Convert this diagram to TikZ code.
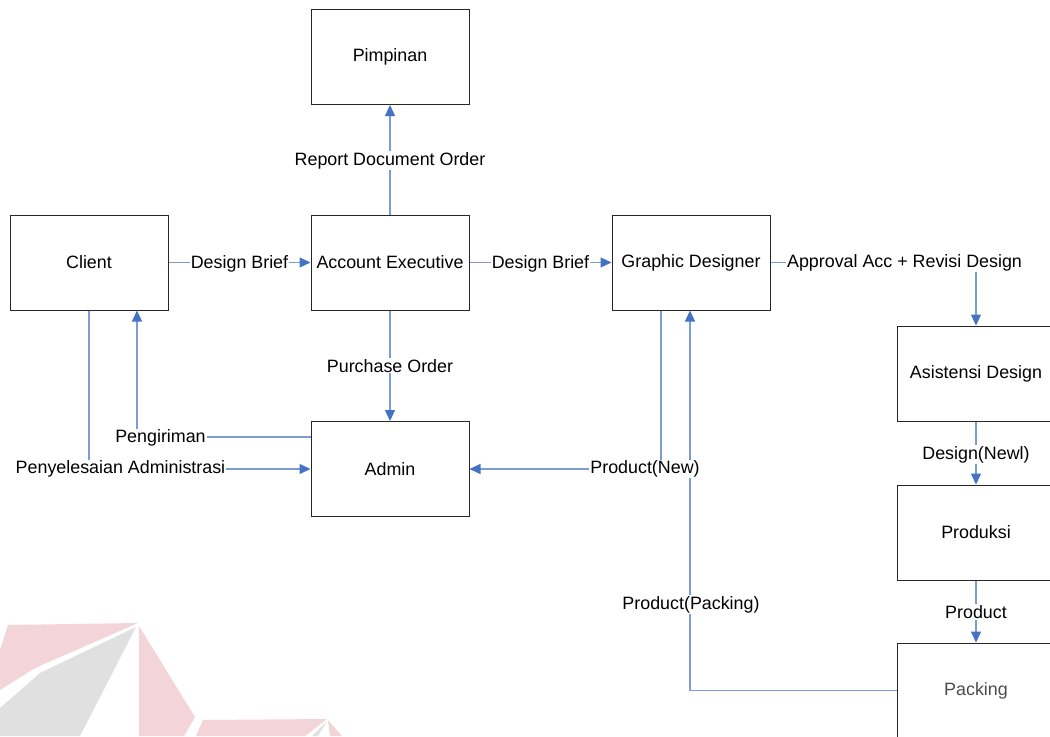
\documentclass[tikz,border=0pt]{standalone}
\usepackage{fontspec}
\setmainfont{Liberation Sans}
\usetikzlibrary{arrows.meta,calc}
\definecolor{linec}{HTML}{7C9CD6}
\definecolor{tipc}{HTML}{4472C4}
\definecolor{wmpink}{HTML}{F3D5D9}
\definecolor{wmgray}{HTML}{E0E0E0}
\tikzset{
  box/.style={draw=black!85, line width=0.75pt, minimum width=118.5pt, minimum height=71.25pt, inner sep=0pt, font=\fontsize{13.4}{15}\selectfont},
  conn/.style={draw=linec, line width=0.8pt, -{Triangle[length=8.25pt,width=7.5pt,color=tipc]}},
  lbl/.style={fill=white, inner sep=0.8pt, font=\fontsize{13.4}{15}\selectfont}
}
\begin{document}
\begin{tikzpicture}[x=0.75pt,y=-0.75pt]
\clip (0,0) rectangle (1050,736);
\fill[white] (0,0) rectangle (1050,736);
% watermark
\fill[wmpink] (0,650) -- (8,625) -- (138,623) -- (35,668) -- (0,690) -- cycle;
\fill[wmgray] (0,708) -- (40,673) -- (136,627) -- (80,736) -- (0,736) -- cycle;
\fill[wmpink] (139,626) -- (195,717) -- (184,736) -- (139,736) -- cycle;
\fill[wmpink] (203,720) -- (327,719) -- (305,736) -- (196,736) -- cycle;
\fill[wmgray] (327,721) -- (318,736) -- (312,736) -- cycle;
\fill[wmpink] (328,720) -- (342,736) -- (330,736) -- cycle;
% boxes
\node[box] (pimp) at (390,57) {Pimpinan};
\node[box] (client) at (89,262.5) {Client};
\node[box] (ae) at (390,262.5) {Account Executive};
\node[box] (gd) at (691,262.5) {Graphic Designer};
\node[box] (admin) at (390,469) {Admin};
\node[box] (asis) at (976,373.5) {Asistensi Design};
\node[box] (prod) at (976,532.5) {Produksi};
\node[box, text=black!70] (pack) at (976,690.5) {Packing};
% connectors
\draw[conn] (client) -- (ae) coordinate[midway] (l1);
\draw[conn] (ae) -- (gd) coordinate[midway] (l2);
\draw[conn] (ae) -- (pimp) coordinate[midway] (l3);
\draw[conn] (ae) -- (admin) coordinate[midway] (l4);
\draw[conn] (gd.east) -| (asis.north);
\draw[conn] (asis) -- (prod) coordinate[midway] (l5);
\draw[conn] (prod) -- (pack) coordinate[midway] (l6);
\draw[conn] (pack.west) -| ($(gd.south)+(-1,0)$);
\draw[conn] ($(gd.south)+(-30,0)$) |- (admin.east);
\draw[conn] ($(admin.north west)+(0,16)$) -| ($(client.south)+(48,0)$);
\draw[conn] (client.south) |- (admin.west);
% labels
\node[lbl] at ($(l1)+(0,1)$) {Design Brief};
\node[lbl] at ($(l2)+(0,1)$) {Design Brief};
\node[lbl] at ($(l3)+(0,1)$) {Report Document Order};
\node[lbl] at (l4) {Purchase Order};
\node[lbl] at (904.5,263) {Approval Acc + Revisi Design};
\node[lbl] at ($(l5)+(0,1.5)$) {Design(Newl)};
\node[lbl] at ($(l6)+(0,0.5)$) {Product};
\node[lbl] at (691,604.5) {Product(Packing)};
\node[lbl] at (645,469) {Product(New)};
\node[lbl] at (160.5,438) {Pengiriman};
\node[lbl] at (120.5,469) {Penyelesaian Administrasi};
\end{tikzpicture}
\end{document}
